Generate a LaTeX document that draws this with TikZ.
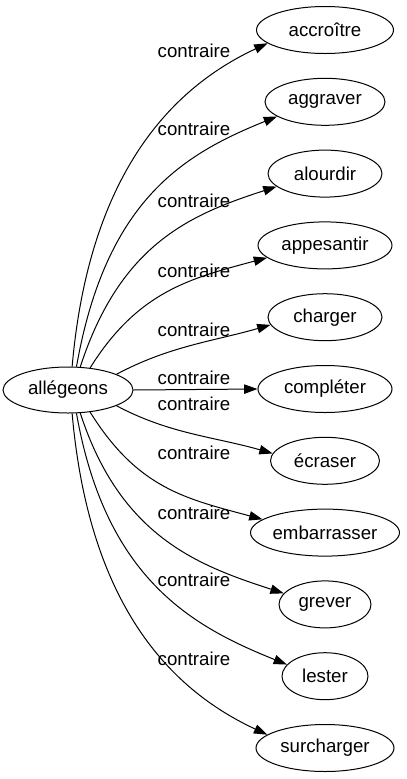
\documentclass[tikz,border=0pt]{standalone}
\usepackage{fontspec}
\setmainfont{Liberation Sans}
\usetikzlibrary{arrows.meta,shapes.geometric}
\tikzset{
  vert/.style={draw, ellipse, minimum height=35.25pt, inner sep=0pt, line width=0.75pt, font=\fontsize{14}{16}\selectfont},
  lbl/.style={anchor=base, inner sep=0pt, font=\fontsize{14}{16}\selectfont},
  arr/.style={-{Triangle[length=10pt,width=7pt]}, line width=0.75pt}
}
\begin{document}
\begin{tikzpicture}[x=0.75pt,y=0.75pt]
\useasboundingbox (0,0) rectangle (407,-779);
\node[vert, minimum width=97.5pt, minimum height=34.5pt] (s) at (68,-390) {allégeons};
\node[vert, minimum width=102.75pt] (t0) at (325,-30) {accroître};
\node[vert, minimum width=90pt] (t1) at (325,-101.8) {aggraver};
\node[vert, minimum width=85.5pt] (t2) at (325,-173.6) {alourdir};
\node[vert, minimum width=100.5pt] (t3) at (325,-245.4) {appesantir};
\node[vert, minimum width=85.5pt] (t4) at (325,-317.2) {charger};
\node[vert, minimum width=100.5pt] (t5) at (325,-389) {compléter};
\node[vert, minimum width=81.75pt] (t6) at (325,-460.8) {écraser};
\node[vert, minimum width=111.75pt] (t7) at (325,-532.6) {embarrasser};
\node[vert, minimum width=69pt] (t8) at (325,-604.4) {grever};
\node[vert, minimum width=64.5pt] (t9) at (325,-676.2) {lester};
\node[vert, minimum width=103.5pt] (t10) at (325,-748) {surcharger};

\node[lbl] (l0) at (194,-57) {contraire};
\node[lbl] (l1) at (194,-135) {contraire};
\node[lbl] (l2) at (194,-207) {contraire};
\node[lbl] (l3) at (194,-277) {contraire};
\node[lbl] (l4) at (194,-336) {contraire};
\node[lbl] (l5) at (194,-384) {contraire};
\node[lbl] (l6) at (194,-410) {contraire};
\node[lbl] (l7) at (194,-459) {contraire};
\node[lbl] (l8) at (194,-519) {contraire};
\node[lbl] (l9) at (194,-586) {contraire};
\node[lbl] (l10) at (194,-665) {contraire};

\draw[arr] (s.80) .. controls +(85:200) and +(205:100) .. (t0.193);
\draw[arr] (s.70) .. controls +(80:170) and +(202:100) .. (t1.197);
\draw[arr] (s.62) .. controls +(72:130) and +(198:90) .. (t2.195);
\draw[arr] (s.45) .. controls +(58:90) and +(195:80) .. (t3.192);
\draw[arr] (s.18) .. controls +(28:60) and +(196:60) .. (t4.188);
\draw[arr] (s.east) -- (t5.west);
\draw[arr] (s.-18) .. controls +(-28:60) and +(164:60) .. (t6.172);
\draw[arr] (s.-45) .. controls +(-58:90) and +(165:80) .. (t7.168);
\draw[arr] (s.-62) .. controls +(-72:130) and +(162:90) .. (t8.165);
\draw[arr] (s.-70) .. controls +(-80:170) and +(158:100) .. (t9.163);
\draw[arr] (s.-80) .. controls +(-85:200) and +(155:100) .. (t10.167);
\end{tikzpicture}
\end{document}
